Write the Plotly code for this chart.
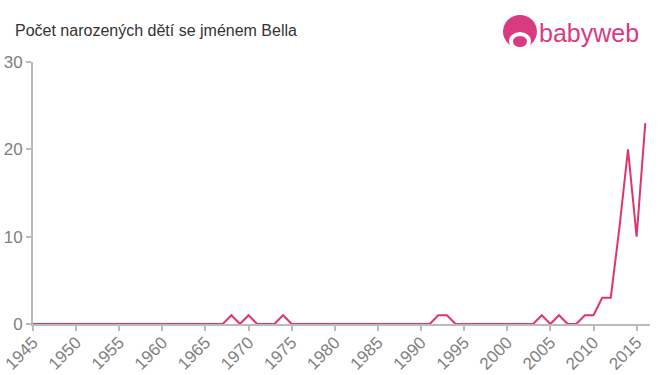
import plotly.graph_objects as go

years = [1945, 1946, 1947, 1948, 1949, 1950, 1951, 1952, 1953, 1954,
         1955, 1956, 1957, 1958, 1959, 1960, 1961, 1962, 1963, 1964,
         1965, 1966, 1967, 1968, 1969, 1970, 1971, 1972, 1973, 1974,
         1975, 1976, 1977, 1978, 1979, 1980, 1981, 1982, 1983, 1984,
         1985, 1986, 1987, 1988, 1989, 1990, 1991, 1992, 1993, 1994,
         1995, 1996, 1997, 1998, 1999, 2000, 2001, 2002, 2003, 2004,
         2005, 2006, 2007, 2008, 2009, 2010, 2011, 2012, 2013, 2014,
         2015, 2016]
counts = [0, 0, 0, 0, 0, 0, 0, 0, 0, 0,
          0, 0, 0, 0, 0, 0, 0, 0, 0, 0,
          0, 0, 0, 1, 0, 1, 0, 0, 0, 1,
          0, 0, 0, 0, 0, 0, 0, 0, 0, 0,
          0, 0, 0, 0, 0, 0, 0, 1, 1, 0,
          0, 0, 0, 0, 0, 0, 0, 0, 0, 1,
          0, 1, 0, 0, 1, 1, 3, 3, 11, 20,
          10, 23]
x_ticks = [1945, 1950, 1955, 1960, 1965, 1970, 1975, 1980, 1985, 1990,
           1995, 2000, 2005, 2010, 2015]
y_ticks = [0, 10, 20, 30]

title_text = "Počet narozených dětí se jménem Bella"
logo_text = "babyweb"

LINE = "#e0356b"
PINK = "#d93a80"
AXIS = "#bbbbbb"
LABEL = "#808080"
FONT = "Liberation Sans, Arial, Helvetica, sans-serif"

W, H = 660, 375
L, R, T, B = 33, 10, 62, 51
pw, ph = W - L - R, H - T - B


def px(x):
    return (x - L) / pw


def py(y):
    return (H - B - y) / ph


fig = go.Figure()
fig.add_trace(go.Scatter(
    x=years, y=counts, mode="lines",
    line=dict(color=LINE, width=2), hoverinfo="x+y", showlegend=False,
))

shapes = [
    # logo head
    dict(type="circle", xref="paper", yref="paper",
         x0=px(503), x1=px(537), y0=py(48), y1=py(15),
         fillcolor=PINK, line=dict(width=0), layer="above"),
    dict(type="circle", xref="paper", yref="paper",
         x0=px(509), x1=px(531), y0=py(50), y1=py(32),
         fillcolor="white", line=dict(width=0), layer="above"),
    dict(type="circle", xref="paper", yref="paper",
         x0=px(513), x1=px(527), y0=py(47), y1=py(36),
         fillcolor=PINK, line=dict(width=0), layer="above"),
]

fig.update_layout(
    width=W, height=H,
    margin=dict(l=L, r=R, t=T, b=B, autoexpand=False),
    paper_bgcolor="white", plot_bgcolor="white",
    font=dict(family=FONT, color=LABEL),
    showlegend=False,
    shapes=shapes,
    annotations=[
        dict(text=title_text, xref="paper", yref="paper",
             x=px(13), y=py(31), xanchor="left", yanchor="middle",
             showarrow=False, font=dict(size=16, color="#333333", family=FONT)),
        dict(text=logo_text, xref="paper", yref="paper",
             x=px(537), y=py(33), xanchor="left", yanchor="middle",
             showarrow=False, font=dict(size=25, color=PINK, family=FONT)),
    ],
    xaxis=dict(
        range=[1945, 2016.55], tickmode="array", tickvals=x_ticks,
        ticktext=[str(t) for t in x_ticks], tickangle=-45, automargin=False,
        showgrid=False, zeroline=False, showline=True, linecolor=AXIS,
        linewidth=2, ticks="outside", ticklen=5, tickwidth=2, tickcolor=AXIS,
        ticklabelstandoff=-5,
        tickfont=dict(size=17, color=LABEL, family=FONT),
    ),
    yaxis=dict(
        range=[0, 30], tickmode="array", tickvals=y_ticks, automargin=False,
        showgrid=False, zeroline=False, showline=True, linecolor=AXIS,
        linewidth=2, ticks="outside", ticklen=5, tickwidth=2, tickcolor=AXIS,
        tickfont=dict(size=17, color=LABEL, family=FONT),
    ),
)

fig.write_html(
    "out.html",
    config={"displayModeBar": False},
    post_script="document.body.style.margin='0';document.body.style.overflow='hidden';",
)
